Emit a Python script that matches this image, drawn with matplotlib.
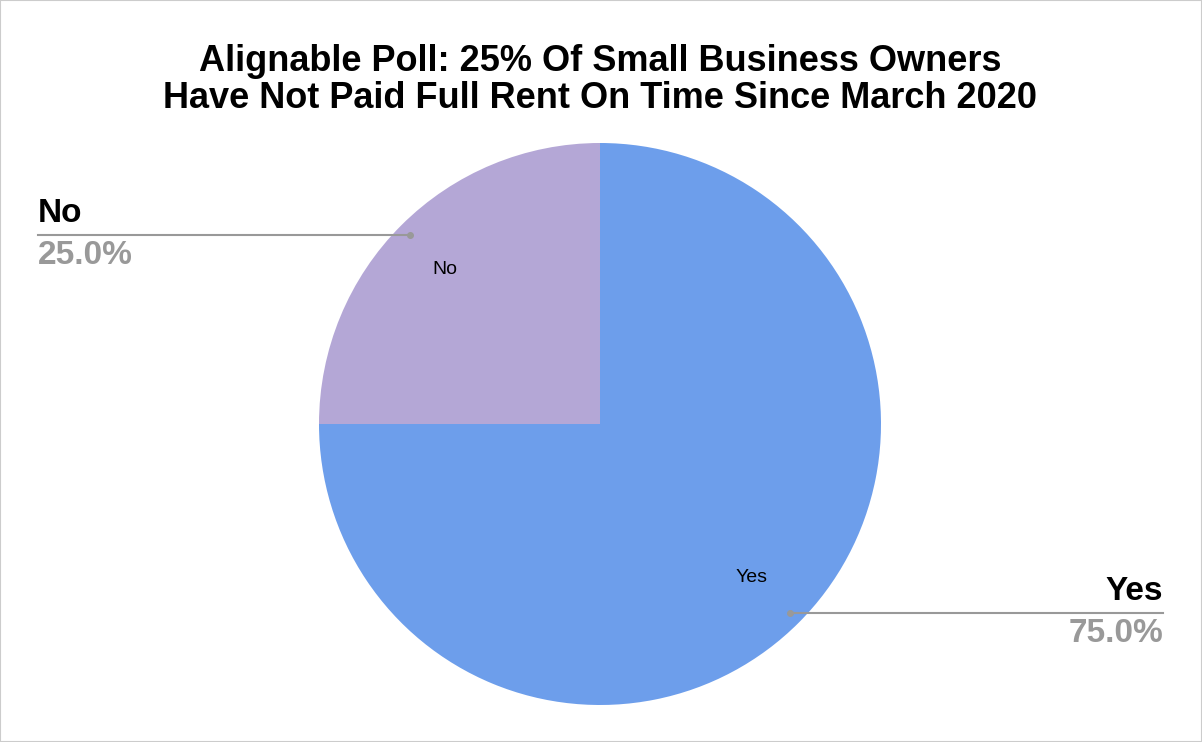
import matplotlib
matplotlib.use("Agg")
import matplotlib.pyplot as plt

labels = ["Yes", "No"]
shares = [75.0, 25.0]
colors = ["#6d9eeb", "#b4a7d6"]
title = ("Alignable Poll: 25% Of Small Business Owners\n"
         "Have Not Paid Full Rent On Time Since March 2020")

W, H = 1202, 742
plt.rcParams["font.family"] = ["Liberation Sans", "DejaVu Sans"]
fig = plt.figure(figsize=(W / 100, H / 100), dpi=100)
ax = fig.add_axes([0, 0, 1, 1])
ax.set_xlim(0, W)
ax.set_ylim(0, H)
ax.set_aspect("equal")
ax.axis("off")

cx, cy, r = 600, H - 424, 281
ax.pie(shares, colors=colors, startangle=90, counterclock=False,
       center=(cx, cy), radius=r, frame=True)
ax.set_xlim(0, W)
ax.set_ylim(0, H)
ax.axis("off")

# inner labels
ax.text(445, H - 270, labels[1], fontsize=14, ha="center", va="center")
ax.text(752, H - 577, labels[0], fontsize=14, ha="center", va="center")

# leader lines
grey = "#999999"
ax.plot([410, 38], [H - 235, H - 235], color=grey, lw=1.5)
ax.plot(410, H - 235, "o", color=grey, ms=4)
ax.plot([790, 1163], [H - 613, H - 613], color=grey, lw=1.5)
ax.plot(790, H - 613, "o", color=grey, ms=4)

ax.text(38, H - 213, labels[1], fontsize=24, fontweight="bold", ha="left", va="center")
ax.text(38, H - 256, f"{shares[1]:.1f}%", fontsize=24, fontweight="bold",
        color=grey, ha="left", va="center")
ax.text(1163, H - 592, labels[0], fontsize=24, fontweight="bold", ha="right", va="center")
ax.text(1163, H - 633, f"{shares[0]:.1f}%", fontsize=24, fontweight="bold",
        color=grey, ha="right", va="center")

ax.text(600, H - 80, title, fontsize=26, fontweight="heavy", ha="center",
        va="center", linespacing=1.05)

fig.patches.append(plt.Rectangle((0, 0), 1, 1, transform=fig.transFigure,
                                 fill=False, edgecolor="#cccccc", lw=1.5))
fig.savefig("out.png", dpi=100)
